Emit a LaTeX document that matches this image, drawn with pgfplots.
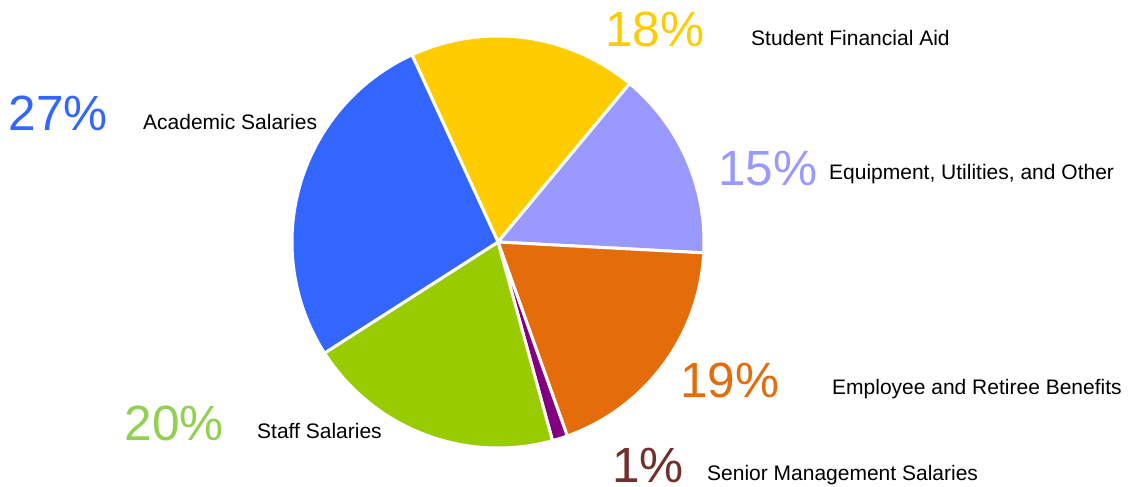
\documentclass[border=0pt]{standalone}
\usepackage{pgfplots}
\usepackage{pgfplotstable}
\pgfplotsset{compat=1.18}
\usepackage{fontspec}
\setmainfont{Liberation Sans}

\definecolor{cYellow}{HTML}{FFCC00}
\definecolor{cLav}{HTML}{9999FF}
\definecolor{cOrange}{HTML}{E46C0A}
\definecolor{cPurple}{HTML}{800080}
\definecolor{cGreen}{HTML}{99CC00}
\definecolor{cBlue}{HTML}{3366FF}
\definecolor{tOrange}{HTML}{E46C0A}
\definecolor{tRed}{HTML}{722F2B}
\definecolor{tGreen}{HTML}{92D050}

% shares of the budget (percent), clockwise starting with Student Financial Aid
\pgfplotstableread{
share
17.9
14.8
18.7
1.2
20.2
27.2
}\piedata
\def\startangle{114.7}
\def\pieradius{206}

\newcommand\bigfont{\fontsize{49.5bp}{50bp}\selectfont}
\newcommand\smallfont{\fontsize{21bp}{22bp}\selectfont}

\newcommand\pieslice[3]{%
  \edef\sa{\csname pieang#2\endcsname}\edef\ea{\csname pieang#3\endcsname}%
  \edef\tmp{\noexpand\addplot[fill=#1, draw=white, line width=3bp, line join=round, data cs=polar] coordinates {(0,0) (\sa,\pieradius)} arc[start angle=\sa, end angle=\ea, radius=\pieradius bp] -- cycle;}%
  \tmp
}

\begin{document}
% cumulative slice boundaries (degrees, clockwise)
\xdef\angcum{\startangle}%
\expandafter\xdef\csname pieang0\endcsname{\startangle}%
\pgfplotsforeachungrouped \i in {0,...,5}{%
  \pgfplotstablegetelem{\i}{share}\of\piedata
  \pgfmathsetmacro\angnext{\angcum-3.6*\pgfplotsretval}%
  \xdef\angcum{\angnext}%
  \pgfmathtruncatemacro\j{\i+1}%
  \expandafter\xdef\csname pieang\j\endcsname{\angnext}%
}%
\begin{tikzpicture}
\useasboundingbox (0,0) rectangle (1131bp,487bp);
\begin{axis}[
  at={(0,0)}, anchor=south west,
  x=1bp, y=1bp,
  xmin=-498, xmax=633, ymin=-245, ymax=242,
  hide axis, clip=false,
]
\pieslice{cYellow}{0}{1}
\pieslice{cLav}{1}{2}
\pieslice{cOrange}{2}{3}
\pieslice{cPurple}{3}{4}
\pieslice{cGreen}{4}{5}
\pieslice{cBlue}{5}{6}

\node[anchor=base west, inner sep=0pt, text=cBlue, font=\bigfont] at (axis cs:-489.5,112) {27\%};
\node[anchor=base west, inner sep=0pt, font=\smallfont] at (axis cs:-355,113) {Academic Salaries};
\node[anchor=base west, inner sep=0pt, text=cYellow, font=\bigfont] at (axis cs:107,195) {18\%};
\node[anchor=base west, inner sep=0pt, font=\smallfont] at (axis cs:253,196) {Student Financial Aid};
\node[anchor=base west, inner sep=0pt, text=cLav, font=\bigfont] at (axis cs:220,57) {15\%};
\node[anchor=base west, inner sep=0pt, font=\smallfont] at (axis cs:331,63) {Equipment, Utilities, and Other};
\node[anchor=base west, inner sep=0pt, text=tOrange, font=\bigfont] at (axis cs:182,-155) {19\%};
\node[anchor=base west, inner sep=0pt, font=\smallfont] at (axis cs:334,-152) {Employee and Retiree Benefits};
\node[anchor=base west, inner sep=0pt, text=tGreen, font=\bigfont] at (axis cs:-373.5,-198) {20\%};
\node[anchor=base west, inner sep=0pt, font=\smallfont] at (axis cs:-241,-196) {Staff Salaries};
\node[anchor=base west, inner sep=0pt, text=tRed, font=\bigfont] at (axis cs:114,-240) {1\%};
\node[anchor=base west, inner sep=0pt, font=\smallfont] at (axis cs:209,-238) {Senior Management Salaries};
\end{axis}
\end{tikzpicture}
\end{document}
